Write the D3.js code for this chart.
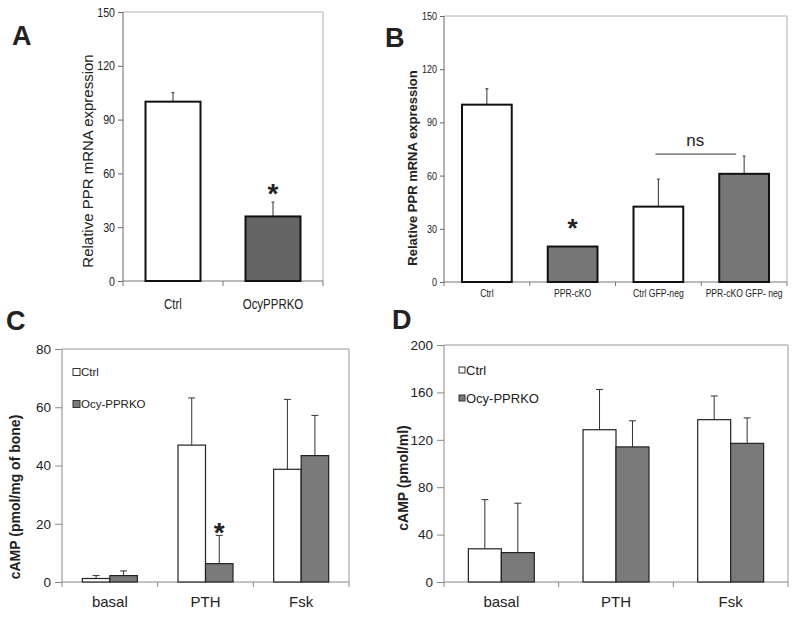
<!DOCTYPE html>
<html><head><meta charset="utf-8">
<script src="https://cdnjs.cloudflare.com/ajax/libs/d3/7.8.5/d3.min.js"></script>
<style>
body{margin:0;background:#fff;}
svg{display:block;}
text{font-family:Arial,"Liberation Sans",sans-serif;fill:#222;}
</style></head>
<body>
<script>
// ---- Panel A ----
const catsA = ["Ctrl", "OcyPPRKO"];
const valsA = [100, 36];
const errsA = [5, 8];
const ticksA = [0, 30, 60, 90, 120, 150];
// ---- Panel B ----
const catsB = ["Ctrl", "PPR-cKO", "Ctrl GFP-neg", "PPR-cKO GFP- neg"];
const valsB = [100, 20, 42.5, 61];
const errsB = [9, 0, 15.5, 10];
const ticksB = [0, 30, 60, 90, 120, 150];
// ---- Panel C ----
const groupsC = ["basal", "PTH", "Fsk"];
const seriesNames = ["Ctrl", "Ocy-PPRKO"];
const ctrlC = [1.2, 47, 38.7];
const ctrlErrC = [1.0, 16.2, 24];
const ocyC = [2.2, 6.3, 43.4];
const ocyErrC = [1.6, 9.7, 13.8];
const ticksC = [0, 20, 40, 60, 80];
// ---- Panel D ----
const groupsD = ["basal", "PTH", "Fsk"];
const ctrlD = [28, 128.5, 137];
const ctrlErrD = [41.5, 34, 20];
const ocyD = [24.8, 114, 117];
const ocyErrD = [41.7, 22, 21.5];
const ticksD = [0, 40, 80, 120, 160, 200];

const W = 800, H = 619;
const NARROW = 0.82;
const svg = d3.select("body").append("svg").attr("width", W).attr("height", H);

function frame(g, x0, x1, y0, y1, col) {
  g.append("path").attr("d", `M${x0},${y0}H${x1}V${y1}`)
    .attr("fill", "none").attr("stroke", col).attr("stroke-width", 1);
}

function errBar(g, x, yTop, yBase, capW, col) {
  g.append("line").attr("x1", x).attr("x2", x).attr("y1", yBase).attr("y2", yTop)
    .attr("stroke", col).attr("stroke-width", 1);
  g.append("line").attr("x1", x - capW / 2).attr("x2", x + capW / 2).attr("y1", yTop).attr("y2", yTop)
    .attr("stroke", col).attr("stroke-width", 1);
}

function yAxis(g, y, x0, ticks, opts) {
  g.append("line").attr("x1", x0).attr("x2", x0).attr("y1", y.range()[0]).attr("y2", y.range()[1])
    .attr("stroke", opts.axisCol).attr("stroke-width", 1);
  const ax = d3.axisLeft(y).tickValues(ticks).tickSize(opts.tick).tickPadding(opts.pad);
  const a = g.append("g").attr("transform", `translate(${x0},0)`).call(ax);
  a.select(".domain").remove();
  a.selectAll(".tick line").attr("stroke", opts.axisCol);
  const t = a.selectAll(".tick text").style("font-size", opts.fs + "px").attr("fill", "#333")
    .style("font-family", "Arial, 'Liberation Sans', sans-serif");
  if (opts.narrow) {
    t.attr("transform", `scale(${NARROW},1)`).attr("x", -(opts.tick + opts.pad) / NARROW);
  }
}

function xAxisTicks(g, positions, yb, len, col) {
  g.append("line").attr("x1", positions[0]).attr("x2", positions[positions.length - 1])
    .attr("y1", yb).attr("y2", yb).attr("stroke", col).attr("stroke-width", 1);
  g.selectAll(null).data(positions).enter().append("line")
    .attr("x1", d => d).attr("x2", d => d).attr("y1", yb).attr("y2", yb + len)
    .attr("stroke", col).attr("stroke-width", 1);
}

function narrowText(g, x, y, fs, txt) {
  g.append("text").attr("transform", `translate(${x},${y}) scale(${NARROW},1)`)
    .attr("text-anchor", "middle").style("font-size", fs + "px").attr("fill", "#222").text(txt);
}

function panelLetter(t, x, y) {
  svg.append("text").attr("x", x).attr("y", y).text(t)
    .style("font-size", "27px").style("font-weight", "bold").attr("fill", "#000");
}

function star(g, x, yCenter, fs) {
  g.append("text").attr("x", x).attr("y", yCenter + fs * 0.56).attr("text-anchor", "middle")
    .style("font-size", fs + "px").style("font-weight", "bold").attr("fill", "#111").text("*");
}

// ========== Panel A ==========
{
  const g = svg.append("g");
  const L = 123, R = 323, T = 12, B = 281;
  const x = d3.scaleBand().domain(catsA).range([L, R]).paddingInner(0.45).paddingOuter(0.225);
  const y = d3.scaleLinear().domain([0, 150]).range([B, T]);
  frame(g, L, R, T, B, "#b0b0b0");
  yAxis(g, y, L, ticksA, {axisCol: "#666", tick: 5, pad: 3, fs: 13, narrow: true});
  const step = x.step();
  xAxisTicks(g, [L, L + step, R], B, 5, "#777");
  const fills = ["#ffffff", "#646464"];
  catsA.forEach((c, i) => {
    const cx = x(c) + x.bandwidth() / 2;
    errBar(g, cx, y(valsA[i] + errsA[i]), y(valsA[i]), 3, "#333");
    g.append("rect").attr("x", x(c)).attr("y", y(valsA[i])).attr("width", x.bandwidth())
      .attr("height", y(0) - y(valsA[i])).attr("fill", fills[i]).attr("stroke", "#111").attr("stroke-width", 2);
    narrowText(g, cx, 309, 14, c);
  });
  star(g, x("OcyPPRKO") + x.bandwidth() / 2, y(valsA[1] + errsA[1]) - 15, 28);
  g.append("text").attr("transform", `translate(93,161) rotate(-90)`).attr("text-anchor", "middle")
    .style("font-size", "15px").attr("fill", "#333").text("Relative PPR mRNA expression");
  panelLetter("A", 12, 45);
}

// ========== Panel B ==========
{
  const g = svg.append("g");
  const L = 444, R = 787, T = 16, B = 282;
  const x = d3.scaleBand().domain(catsB).range([L, R]).paddingInner(0.42).paddingOuter(0.21);
  const y = d3.scaleLinear().domain([0, 150]).range([B, T]);
  frame(g, L, R, T, B, "#b0b0b0");
  yAxis(g, y, L, ticksB, {axisCol: "#666", tick: 4, pad: 3, fs: 11, narrow: true});
  const step = x.step();
  xAxisTicks(g, d3.range(5).map(i => L + i * step), B, 4, "#777");
  const fills = ["#ffffff", "#777777", "#ffffff", "#777777"];
  catsB.forEach((c, i) => {
    const cx = x(c) + x.bandwidth() / 2;
    if (errsB[i] > 0) errBar(g, cx, y(valsB[i] + errsB[i]), y(valsB[i]), 3, "#333");
    g.append("rect").attr("x", x(c)).attr("y", y(valsB[i])).attr("width", x.bandwidth())
      .attr("height", y(0) - y(valsB[i])).attr("fill", fills[i]).attr("stroke", "#111").attr("stroke-width", 2);
    narrowText(g, cx, 297, 10.5, c);
  });
  star(g, x("PPR-cKO") + x.bandwidth() / 2, y(valsB[1]) - 24, 26);
  // ns bracket
  const x2 = x("Ctrl GFP-neg") + x.bandwidth() / 2, x3 = x("PPR-cKO GFP- neg") + x.bandwidth() / 2;
  const yNs = y(d3.max([valsB[2] + errsB[2], valsB[3] + errsB[3]])) - 2;
  g.append("line").attr("x1", x2 - 3).attr("x2", x3 - 8).attr("y1", yNs).attr("y2", yNs)
    .attr("stroke", "#333").attr("stroke-width", 1);
  g.append("text").attr("x", (x2 + x3) / 2 - 6).attr("y", yNs - 8).attr("text-anchor", "middle")
    .style("font-size", "17px").attr("fill", "#333").text("ns");
  g.append("text").attr("transform", `translate(417,168) rotate(-90)`).attr("text-anchor", "middle")
    .style("font-size", "13px").style("font-weight", "bold").attr("fill", "#222").text("Relative PPR mRNA expression");
  panelLetter("B", 385, 47);
}

// grouped panels
function groupedPanel(o) {
  const g = svg.append("g");
  const {L, R, T, B} = o;
  const x0 = d3.scaleBand().domain(o.groups).range([L, R]).paddingInner(0.425).paddingOuter(0.2125);
  const x1 = d3.scaleBand().domain(seriesNames).range([0, x0.bandwidth()]);
  const y = d3.scaleLinear().domain([0, o.max]).range([B, T]);
  frame(g, L, R, T, B, "#999");
  yAxis(g, y, L, o.ticks, {axisCol: "#888", tick: 7, pad: 4, fs: 13.5});
  xAxisTicks(g, d3.range(4).map(i => L + i * x0.step()), B, 5, "#888");
  const series = [
    {name: "Ctrl", v: o.ctrl, e: o.ctrlErr, fill: "#ffffff"},
    {name: "Ocy-PPRKO", v: o.ocy, e: o.ocyErr, fill: "#7a7a7a"}
  ];
  series.forEach(s => {
    o.groups.forEach((gname, i) => {
      const bx = x0(gname) + x1(s.name);
      const cx = bx + x1.bandwidth() / 2;
      errBar(g, cx, y(s.v[i] + s.e[i]), y(s.v[i]), 7, "#333");
      g.append("rect").attr("x", bx).attr("y", y(s.v[i])).attr("width", x1.bandwidth())
        .attr("height", y(0) - y(s.v[i])).attr("fill", s.fill).attr("stroke", "#222").attr("stroke-width", 1.2);
    });
  });
  o.groups.forEach(gname => {
    g.append("text").attr("x", x0(gname) + x0.bandwidth() / 2).attr("y", B + 25).attr("text-anchor", "middle")
      .style("font-size", "15px").text(gname);
  });
  // legend
  series.forEach((s, i) => {
    const ly = o.legY + i * o.legGap;
    g.append("rect").attr("x", o.legX).attr("y", ly - o.sq / 2).attr("width", o.sq).attr("height", o.sq)
      .attr("fill", s.fill).attr("stroke", "#333").attr("stroke-width", 1);
    g.append("text").attr("x", o.legX + o.sq + 1).attr("y", ly + o.legFs * 0.36)
      .style("font-size", o.legFs + "px").attr("fill", "#333").text(s.name);
  });
  g.append("text").attr("transform", `translate(${o.labX},${o.labY}) rotate(-90)`).attr("text-anchor", "middle")
    .style("font-size", "14px").style("font-weight", "bold").attr("fill", "#111").text(o.label);
  return {g, x0, x1, y};
}

// ========== Panel C ==========
{
  const p = groupedPanel({L: 62, R: 349, T: 349, B: 582, max: 80, groups: groupsC, ticks: ticksC,
    ctrl: ctrlC, ctrlErr: ctrlErrC, ocy: ocyC, ocyErr: ocyErrC,
    legX: 73, legY: 372, legGap: 32, sq: 7, legFs: 11.5,
    label: "cAMP (pmol/mg of bone)", labX: 20, labY: 497});
  const cx = p.x0("PTH") + p.x1("Ocy-PPRKO") + p.x1.bandwidth() / 2;
  star(p.g, cx, p.y(ocyC[1] + ocyErrC[1]) - 9, 28);
  panelLetter("C", 6, 330);
}

// ========== Panel D ==========
{
  groupedPanel({L: 444, R: 788, T: 345, B: 582, max: 200, groups: groupsD, ticks: ticksD,
    ctrl: ctrlD, ctrlErr: ctrlErrD, ocy: ocyD, ocyErr: ocyErrD,
    legX: 459, legY: 370, legGap: 28, sq: 6, legFs: 13,
    label: "cAMP (pmol/ml)", labX: 408, labY: 478});
  panelLetter("D", 392, 329);
}
</script>
</body></html>
